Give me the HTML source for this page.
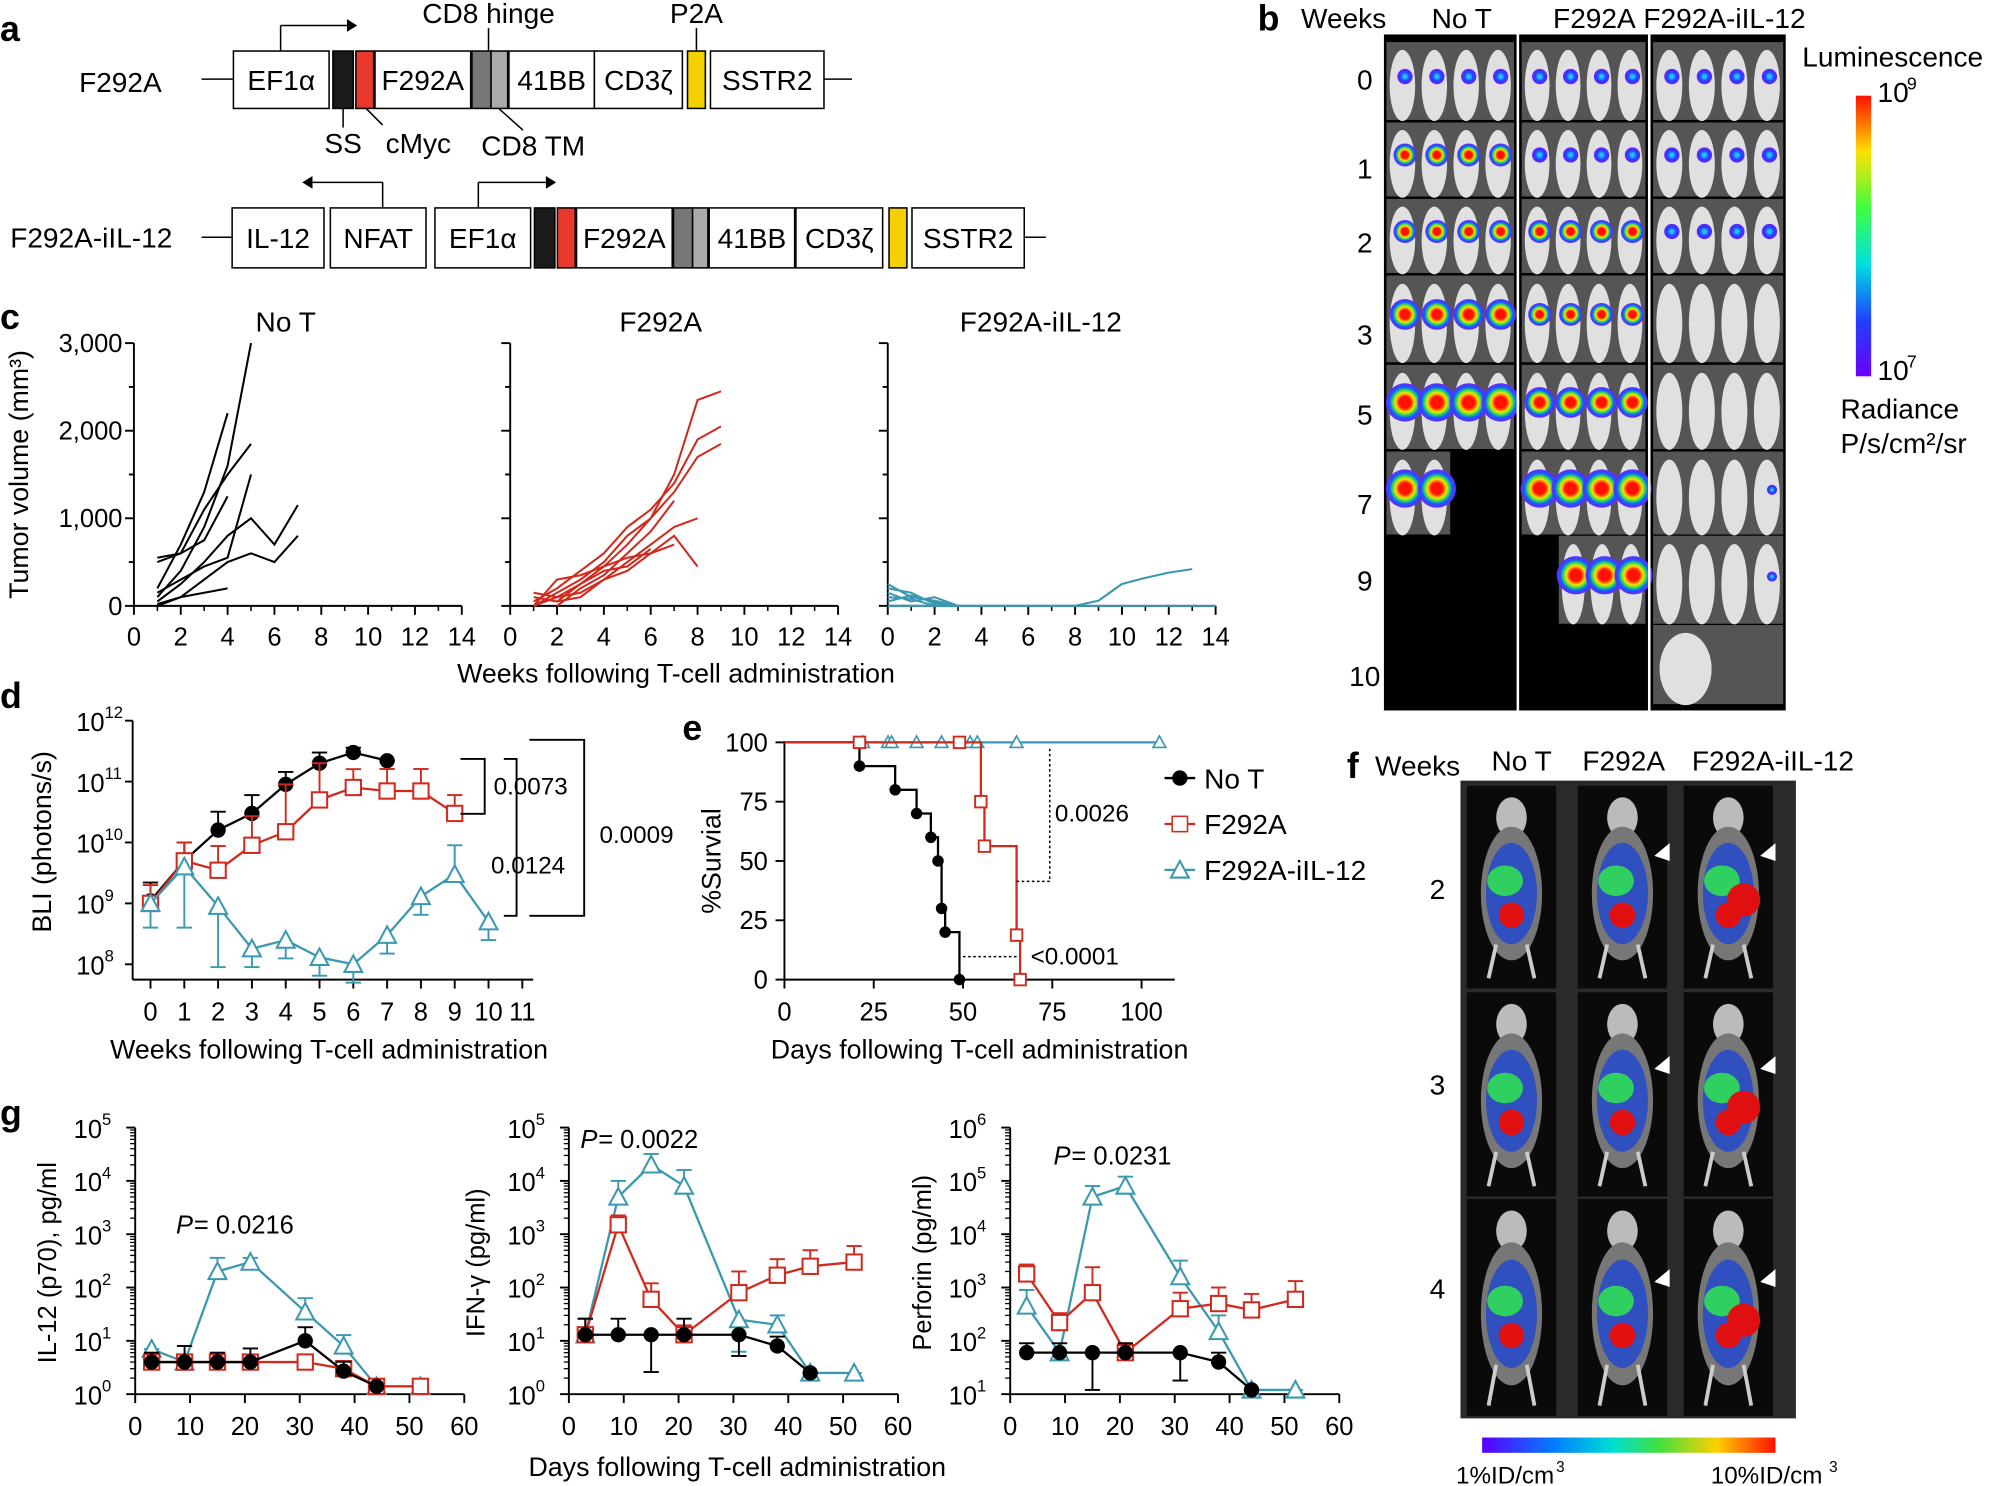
<!DOCTYPE html>
<html><head><meta charset="utf-8">
<style>
html,body{margin:0;padding:0;background:#fff;}
svg{display:block;}
text{font-family:"Liberation Sans",Arial,sans-serif;fill:#000;}
</style></head>
<body>
<svg id="s" width="2000" height="1486" viewBox="0 0 1568 1165" xmlns="http://www.w3.org/2000/svg">
<defs>
<linearGradient id="lum" x1="0" y1="1" x2="0" y2="0">
<stop offset="0" stop-color="#6a00ff"/><stop offset="0.2" stop-color="#2040ff"/><stop offset="0.4" stop-color="#00e0e0"/><stop offset="0.6" stop-color="#40ff40"/><stop offset="0.8" stop-color="#ffe000"/><stop offset="1" stop-color="#ff1000"/>
</linearGradient>
<linearGradient id="pet" x1="0" y1="0" x2="1" y2="0">
<stop offset="0" stop-color="#5a00ff"/><stop offset="0.25" stop-color="#0080ff"/><stop offset="0.45" stop-color="#00e0d0"/><stop offset="0.6" stop-color="#40e040"/><stop offset="0.8" stop-color="#ffd000"/><stop offset="1" stop-color="#ff1000"/>
</linearGradient>
<radialGradient id="blob"><stop offset="0.3" stop-color="#ff1000"/><stop offset="0.5" stop-color="#ffe000"/><stop offset="0.65" stop-color="#30e050"/><stop offset="0.8" stop-color="#1060ff"/><stop offset="1" stop-color="#7020ff"/></radialGradient>
<radialGradient id="blobs"><stop offset="0.2" stop-color="#20c0ff"/><stop offset="0.6" stop-color="#2040ff"/><stop offset="1" stop-color="#7020ff"/></radialGradient>
</defs>
<g id="g"></g>
</svg>
<script>
var G=document.getElementById('g'),NS='http://www.w3.org/2000/svg';
function el(t,a,txt){var e=document.createElementNS(NS,t);for(var k in a)e.setAttribute(k,a[k]);if(txt!==undefined)e.textContent=txt;G.appendChild(e);return e;}
function L(x1,y1,x2,y2,c,w,d){var a={x1:x1,y1:y1,x2:x2,y2:y2,stroke:c||'#000','stroke-width':w||1.5};if(d)a['stroke-dasharray']=d;return el('line',a);}
function T(x,y,s,sz,anc,extra){var a={x:x,y:y,'font-size':sz||20,'text-anchor':anc||'start'};for(var k in extra)a[k]=extra[k];return el('text',a,s);}
function R(x,y,w,h,f,st){return el('rect',{x:x,y:y,width:w,height:h,fill:f||'none',stroke:st||'none','stroke-width':1.2});}
function P(pts,c,w,fill){return el('polyline',{points:pts.map(function(p){return p[0]+','+p[1]}).join(' '),fill:fill||'none',stroke:c,'stroke-width':w||1.5});}
var RED='#d02a1e',CY='#3a98b0';
// ---------- panel a ----------
T(0,32,'a',28,'start',{'font-weight':'bold'});
T(62,72,'F292A',22);
L(158,62,183,62,'#000',1.2);L(646,62,668,62,'#000',1.2);
function box(x1,x2,y1,y2,lab,fill){R(x1,y1,x2-x1,y2-y1,fill||'#fff','#000');if(lab)T((x1+x2)/2,(y1+y2)/2+8,lab,22,'middle');}
box(183,258,40,85,'EF1α');box(261,277,40,85,'','#1a1a1a');box(279,293,40,85,'','#e8392c');box(294,369,40,85,'F292A');
box(370,385,40,85,'','#777');box(385,398,40,85,'','#aaa');box(399,466,40,85,'41BB');box(466,535,40,85,'CD3ζ');box(539,553,40,85,'','#f5d000');box(557,646,40,85,'SSTR2');
L(220,40,220,20,'#000',1.2);L(220,20,272,20,'#000',1.2);el('polygon',{points:'272,15 280,20 272,25',fill:'#000'});
T(383,18,'CD8 hinge',22,'middle');L(383,22,383,40,'#000',1.2);
T(546,18,'P2A',22,'middle');L(546,22,546,40,'#000',1.2);
L(269,85,269,100,'#000',1.2);T(269,120,'SS',22,'middle');
L(287,85,300,98,'#000',1.2);T(328,120,'cMyc',22,'middle');
L(391,85,410,102,'#000',1.2);T(418,122,'CD8 TM',22,'middle');
T(8,194,'F292A-iIL-12',22);
L(158,186,182,186,'#000',1.2);L(803,186,820,186,'#000',1.2);
box(182,254,163,210,'IL-12');box(259,334,163,210,'NFAT');box(341,416,163,210,'EF1α');box(419,435,163,210,'','#1a1a1a');box(437,451,163,210,'','#e8392c');
box(452,527,163,210,'F292A');box(528,543,163,210,'','#777');box(543,555,163,210,'','#aaa');box(556,623,163,210,'41BB');box(624,692,163,210,'CD3ζ');box(697,711,163,210,'','#f5d000');box(715,803,163,210,'SSTR2');
L(300,163,300,143,'#000',1.2);L(300,143,245,143,'#000',1.2);el('polygon',{points:'245,138 237,143 245,148',fill:'#000'});
L(375,163,375,143,'#000',1.2);L(375,143,428,143,'#000',1.2);el('polygon',{points:'428,138 436,143 428,148',fill:'#000'});
// ---------- panel b ----------
T(986,24,'b',28,'start',{'font-weight':'bold'});
T(1020,22,'Weeks',22);T(1146,22,'No T',22,'middle');T(1250,22,'F292A',22,'middle');T(1352,22,'F292A-iIL-12',22,'middle');
R(1085,27,315,530,'#000');
var rows=[[33,95,'0'],[96,155,'1'],[156,215,'2'],[216,285,'3'],[286,353,'5'],[354,420,'7'],[420,490,'9'],[490,553,'10']];
var cols=[[1087,1187],[1193,1290],[1296,1398]];
var lab=[62,132,190,262,325,395,455,530];
var present=[[1,1,1,1,1,0.5,0,0],[1,1,1,1,1,1,0.7,0],[1,1,1,1,1,1,1,0.6]];
var sev=[[1,2,2,3,4,4,0,0],[1,1,2,2,3,4,4,0],[1,1,1,0,0,0,0,0]];
for(var r=0;r<rows.length;r++){
  T(1070,lab[r]+8,rows[r][2],22,'middle');
  for(var c=0;c<3;c++){
    var p=present[c][r];if(!p)continue;
    var x1=cols[c][0],x2=cols[c][1],w=(x2-x1);
    var sx=x1, nw=w*p; if(c==1&&r==6){sx=x1+w*0.3;} if(c==2&&r==7){nw=w;}
    R(sx,rows[r][0],nw,rows[r][1]-rows[r][0]-1,'#555');
    var n=Math.round(4*p);
    for(var m=0;m<n;m++){
      var cx=sx+nw/n*(m+0.5),cy=(rows[r][0]+rows[r][1])/2;
      if(c==2&&r==7&&m==1)continue;
      el('ellipse',{cx:cx,cy:cy+3,rx:nw/n*0.4,ry:(rows[r][1]-rows[r][0])*0.45,fill:'#e0e0e0'});
      var s=sev[c][r];
      if(c==2&&r>=3){ if((r==5||r==6||r==7)&&m==n-1)el('circle',{cx:cx+4,cy:cy-3,r:4,fill:'url(#blobs)'});continue;}
      if(s>0)el('circle',{cx:cx+2,cy:cy-4,r:s*3+3,fill:s>=2?'url(#blob)':'url(#blobs)'});
    }
  }
}
L(1190,27,1190,557,'#fff',2);L(1293,27,1293,557,'#fff',2);
T(1413,52,'Luminescence',22);R(1455,75,12,220,'url(#lum)');
T(1472,80,'10',22);T(1495,70,'9',14);T(1472,298,'10',22);T(1495,288,'7',14);
T(1443,328,'Radiance',22);T(1443,355,'P/s/cm²/sr',22);
// ---------- panel c ----------
T(0,258,'c',28,'start',{'font-weight':'bold'});
var c0=[105,400,696];
function cx_(i,w){return c0[i]+w*18.36;} function cy_(v){return 475-v*206/3000;}
for(var i=0;i<3;i++){
  L(c0[i],475,c0[i]+257,475,'#000',1.5);L(c0[i],269,c0[i],475,'#000',1.5);
  for(var k=0;k<=14;k+=2){L(cx_(i,k),475,cx_(i,k),482,'#000',1.5);T(cx_(i,k),506,''+k,20,'middle');}
  for(var k=1;k<14;k+=2)L(cx_(i,k),475,cx_(i,k),479,'#000',1.2);
  for(var v=0;v<=3000;v+=500){L(c0[i]-(v%1000?4:7),cy_(v),c0[i],cy_(v),'#000',1.5);}
}
[[0,'0'],[1000,'1,000'],[2000,'2,000'],[3000,'3,000']].forEach(function(a){T(96,cy_(a[0])+7,a[1],20,'end');});
T(224,260,'No T',22,'middle');T(518,260,'F292A',22,'middle');T(816,260,'F292A-iIL-12',22,'middle');
T(530,535,'Weeks following T-cell administration',21,'middle');
T(22,372,'Tumor volume (mm³)',21,'middle',{transform:'rotate(-90 22 372)'});
var nt=[[[1,100],[2,400],[3,900],[4,1600],[5,3000]],[[1,200],[2,700],[3,1300],[4,2200]],[[1,500],[2,600],[3,1100],[4,1500],[5,1850]],[[1,550],[2,600],[3,750],[4,1250]],[[1,50],[2,250],[3,500],[4,800],[5,1000],[6,700],[7,1150]],[[1,0],[2,100],[3,300],[4,500],[5,600],[6,500],[7,800]],[[1,150],[2,300],[3,450],[4,550],[5,1500]],[[1,20],[2,100],[3,150],[4,200]]];
nt.forEach(function(l){P(l.map(function(p){return [cx_(0,p[0]),cy_(p[1])]}),'#000',1.6);});
var fr=[[[1,0],[2,150],[3,300],[4,500],[5,800],[6,1000],[7,1500],[8,2350],[9,2450]],[[1,50],[2,200],[3,400],[4,600],[5,900],[6,1100],[7,1400],[8,1900],[9,2050]],[[1,100],[2,50],[3,250],[4,450],[5,700],[6,1000],[7,1300],[8,1700],[9,1850]],[[2,0],[3,200],[4,350],[5,600],[6,850],[7,1200]],[[1,0],[2,100],[3,150],[4,300],[5,500],[6,700],[7,900],[8,1000]],[[2,50],[3,100],[4,300],[5,400],[6,600],[7,800],[8,450]],[[1,0],[2,300],[3,350],[4,450],[5,550],[6,600],[7,700]],[[1,150],[2,100],[3,250],[4,400],[5,450],[6,650]]];
fr.forEach(function(l){P(l.map(function(p){return [cx_(1,p[0]),cy_(p[1])]}),RED,1.6);});
var cyl=[[[0,250],[1,100],[2,60],[3,0]],[[0,200],[1,150],[2,20],[3,0]],[[0,150],[1,50],[2,100],[3,0]],[[0,100],[1,80],[2,0]],[[0,50],[1,120],[2,40],[3,0]],[[0,0],[8,0],[9,60],[10,250],[11,320],[12,380],[13,420]],[[0,0],[14,0]]];
cyl.forEach(function(l){P(l.map(function(p){return [cx_(2,p[0]),cy_(p[1])]}),CY,1.6);});
// ---------- panel d ----------
T(0,555,'d',28,'start',{'font-weight':'bold'});
var d0=118;function dx(w){return d0+w*26.5;} function dy(v){return 756-(Math.log10(v)-8)*47.75;}
L(104,565,104,768,'#000',1.5);L(104,768,418,768,'#000',1.5);
for(var e=8;e<=12;e++){L(98,dy(Math.pow(10,e)),104,dy(Math.pow(10,e)),'#000',1.5);T(82,dy(Math.pow(10,e))+8,'10',20,'end',{});T(82,dy(Math.pow(10,e))-2,''+e,13);}
for(var k=0;k<=11;k++){L(dx(k),768,dx(k),775,'#000',1.5);T(dx(k),800,''+k,20,'middle');}
T(258,830,'Weeks following T-cell administration',21,'middle');
T(40,660,'BLI (photons/s)',21,'middle',{transform:'rotate(-90 40 660)'});
function series(pts,col,mk,fx,fy,errs,sz){
  P(pts.map(function(p){return [fx(p[0]),fy(p[1])]}),col,1.8);
  pts.forEach(function(p,i){var x=fx(p[0]),y=fy(p[1]);
    if(errs&&errs[i]){var y2=fy(p[1]*errs[i]);L(x,y,x,y2,col,1.5);L(x-6,y2,x+6,y2,col,1.5);}
  });
  pts.forEach(function(p){var x=fx(p[0]),y=fy(p[1]),s=sz||6;
    if(mk=='c')el('circle',{cx:x,cy:y,r:s,fill:col});
    else if(mk=='s')R(x-s,y-s,2*s,2*s,'#fff',col).setAttribute('stroke-width',1.6);
    else el('polygon',{points:(x)+','+(y-s-1)+' '+(x+s+1)+','+(y+s)+' '+(x-s-1)+','+(y+s),fill:'#fff',stroke:col,'stroke-width':1.6});
  });
}
series([[0,1.1e9],[1,5e9],[2,1.6e10],[3,3e10],[4,9e10],[5,2e11],[6,3e11],[7,2.2e11]],'#000','c',dx,dy,[2,2,2,2,1.6,1.5,1.2,1]);
series([[0,1e9],[1,5e9],[2,3.5e9],[3,9e9],[4,1.5e10],[5,5e10],[6,8e10],[7,7e10],[8,7e10],[9,3e10]],RED,'s',dx,dy,[2,2,2.5,3,6,4,2,2.3,2.3,2]);
series([[0,1e9],[1,4e9],[2,9e8],[3,1.8e8],[4,2.5e8],[5,1.3e8],[6,1e8],[7,3e8],[8,1.3e9],[9,3e9],[10,5e8]],CY,'t',dx,dy,[0.4,0.1,0.1,0.5,0.5,0.5,0.5,0.5,0.5,3,0.5]);
P([[361,595],[380,595],[380,638],[361,638]],'#000',1.5);T(387,623,'0.0073',19);
P([[395,595],[405,595],[405,718],[395,718]],'#000',1.5);T(385,685,'0.0124',19);
P([[415,580],[458,580],[458,718],[415,718]],'#000',1.5);T(470,661,'0.0009',19);
// ---------- panel e ----------
T(535,580,'e',28,'start',{'font-weight':'bold'});
function ex(d){return 615+d*2.8;} function ey(v){return 768-v*1.86;}
L(615,581,615,768,'#000',1.5);L(615,768,921,768,'#000',1.5);
[0,25,50,75,100].forEach(function(v){L(608,ey(v),615,ey(v),'#000',1.5);T(602,ey(v)+7,''+v,20,'end');L(ex(v),768,ex(v),775,'#000',1.5);T(ex(v),800,''+v,20,'middle');});
T(565,675,'%Survial',21,'middle',{transform:'rotate(-90 565 675)'});
T(768,830,'Days following T-cell administration',21,'middle');
function step(pts,col){var a=[];for(var i=0;i<pts.length;i++){if(i>0)a.push([ex(pts[i][0]),ey(pts[i-1][1])]);a.push([ex(pts[i][0]),ey(pts[i][1])]);}P(a,col,1.8);}
P([[ex(0),ey(100)],[ex(105),ey(100)]],CY,1.8);
[22,29,30,37,44,52,54,65,105].forEach(function(d){var x=ex(d),y=ey(100);el('polygon',{points:x+','+(y-5)+' '+(x+5)+','+(y+4)+' '+(x-5)+','+(y+4),fill:'#fff',stroke:CY,'stroke-width':1.3});});
var bk=[[0,100],[21,90],[31,80],[37,70],[41,60],[43,50],[44,30],[45,20],[49,0]];
step(bk,'#000');bk.slice(1).forEach(function(p){el('circle',{cx:ex(p[0]),cy:ey(p[1]),r:4.5,fill:'#000'});});
var rd=[[0,100],[55,75],[56,56.25],[65,18.75],[66,0]];
step(rd,RED);[[21,100],[49,100],[55,75],[56,56.25],[65,18.75],[66,0]].forEach(function(p){R(ex(p[0])-4.5,ey(p[1])-4.5,9,9,'#fff',RED).setAttribute('stroke-width',1.5);});
P([[797,691],[823,691],[823,587]],'#000',1.2).setAttribute('stroke-dasharray','2,2');
P([[755,750],[798,750]],'#000',1.2).setAttribute('stroke-dasharray','2,2');
T(827,644,'0.0026',19);T(808,756,'<0.0001',19);
el('circle',{cx:925,cy:610,r:6,fill:'#000'});L(913,610,937,610,'#000',1.8);T(944,618,'No T',22);
L(913,646,937,646,RED,1.8);R(919,640,12,12,'#fff',RED);T(944,654,'F292A',22);
L(913,682,937,682,CY,1.8);el('polygon',{points:'925,675 932,688 918,688',fill:'#fff',stroke:CY,'stroke-width':1.6});T(944,690,'F292A-iIL-12',22);
// ---------- panel f ----------
T(1056,610,'f',28,'start',{'font-weight':'bold'});T(1078,608,'Weeks',22);
T(1193,604,'No T',22,'middle');T(1273,604,'F292A',22,'middle');T(1390,604,'F292A-iIL-12',22,'middle');
R(1145,612,263,500,'#2a2a2a');
var frs=[[616,775],[778,938],[940,1110]];var fc=[1185,1272,1355];
['2','3','4'].forEach(function(s,i){T(1127,[705,858,1018][i],s,22,'middle');});
for(var r=0;r<3;r++)for(var c=0;c<3;c++){
  var y1=frs[r][0],y2=frs[r][1],x=fc[c];
  R(x-35,y1,70,y2-y1,'#0a0a0a');
  el('ellipse',{cx:x,cy:y1+25,rx:12,ry:16,fill:'#bbb'});
  el('ellipse',{cx:x,cy:(y1+y2)/2+5,rx:24,ry:(y2-y1)*0.33,fill:'#777'});
  el('ellipse',{cx:x,cy:(y1+y2)/2+5,rx:20,ry:(y2-y1)*0.25,fill:'#3050c0'});
  el('ellipse',{cx:x-5,cy:(y1+y2)/2-5,rx:14,ry:12,fill:'#30d060'});
  el('circle',{cx:x,cy:(y1+y2)/2+22,r:10,fill:'#e01010'});
  if(c==2)el('circle',{cx:x+12,cy:(y1+y2)/2+10,r:13,fill:'#e01010'});
  L(x-12,(y1+y2)/2+45,x-18,y2-8,'#ccc',3);L(x+12,(y1+y2)/2+45,x+18,y2-8,'#ccc',3);
  if(c>0){var ax=x+25,ay=y1+[55,60,65][r];el('polygon',{points:ax+','+ay+' '+(ax+12)+','+(ay-10)+' '+(ax+12)+','+(ay+4),fill:'#fff'});}
}
R(1162,1127,230,12,'url(#pet)');
T(1180,1163,'1%ID/cm',19,'middle');T(1220,1154,'3',12);T(1385,1163,'10%ID/cm',19,'middle');T(1434,1154,'3',12);
// ---------- panel g ----------
T(0,882,'g',28,'start',{'font-weight':'bold'});
function gplot(x0,emin,ylabel,ylx){
  var fx=function(d){return x0+d*4.3;};
  var fy=function(v){return 1093-(Math.log10(v)-emin)*41.8;};
  L(x0,884,x0,1093,'#000',1.5);L(x0,1093,x0+258,1093,'#000',1.5);
  for(var e=emin;e<=emin+5;e++){var y=fy(Math.pow(10,e));L(x0-7,y,x0,y,'#000',1.5);T(x0-26,y+8,'10',20,'end');T(x0-26,y-2,''+e,13);
    if(e<emin+5)for(var m=2;m<10;m++){var yy=fy(m*Math.pow(10,e));L(x0-4,yy,x0,yy,'#000',1);}}
  for(var d=0;d<=60;d+=10){L(fx(d),1093,fx(d),1100,'#000',1.5);T(fx(d),1125,''+d,20,'middle');}
  T(ylx,990,ylabel,20,'middle',{transform:'rotate(-90 '+ylx+' 990)'});
  return [fx,fy];
}
var f1=gplot(106,0,'IL-12 (p70), pg/ml',44);
series([[3,7],[9,4],[15,200],[21,300],[31,35],[38,8],[44,1.4],[52,1.4]],CY,'t',f1[0],f1[1],[1,1,1.8,1.2,1.8,1.6,1,1],6);
series([[3,4],[9,4],[15,4],[21,4],[31,4],[38,3],[44,1.4],[52,1.4]],RED,'s',f1[0],f1[1],null,6);
series([[3,4],[9,4],[15,4],[21,4],[31,10],[38,2.7],[44,1.4]],'#000','c',f1[0],f1[1],[1.5,2,1.5,1.8,1.8,1.5,1],6);
T(138,967,'P',20,'start',{'font-style':'italic'});T(152,967,' = 0.0216',20);
var f2=gplot(446,0,'IFN-γ (pg/ml)',380);
series([[3,13],[9,5000],[15,20000],[21,8000],[31,25],[38,20],[44,2.5],[52,2.5]],CY,'t',f2[0],f2[1],[2,2,1.6,2,0.25,1.5,1,1],6);
series([[3,13],[9,1500],[15,60],[21,13],[31,80],[38,170],[44,250],[52,300]],RED,'s',f2[0],f2[1],[2,1.5,2,1.5,2.5,2,2,2],6);
series([[3,13],[9,13],[15,13],[21,13],[31,13],[38,8],[44,2.5]],'#000','c',f2[0],f2[1],[2,2,0.2,2,0.4,1.5,1],6);
T(455,900,'P',20,'start',{'font-style':'italic'});T(469,900,' = 0.0022',20);
T(578,1157,'Days following T-cell administration',21,'middle');
var f3=gplot(792,1,'Perforin (pg/ml)',730);
series([[3,450],[9,60],[15,50000],[21,80000],[31,1600],[38,150],[44,12],[52,12]],CY,'t',f3[0],f3[1],[2,1,1.6,1.5,2,2,1,1],6);
series([[3,1800],[9,220],[15,800],[21,60],[31,400],[38,500],[44,380],[52,600]],RED,'s',f3[0],f3[1],[1.5,1.5,3,1.5,2,2,2,2.2],6);
series([[3,60],[9,60],[15,60],[21,60],[31,60],[38,40],[44,12]],'#000','c',f3[0],f3[1],[1.5,1.5,0.2,1.5,0.3,1.5,1],6);
T(826,913,'P',20,'start',{'font-style':'italic'});T(840,913,' = 0.0231',20);
</script>
</body></html>
